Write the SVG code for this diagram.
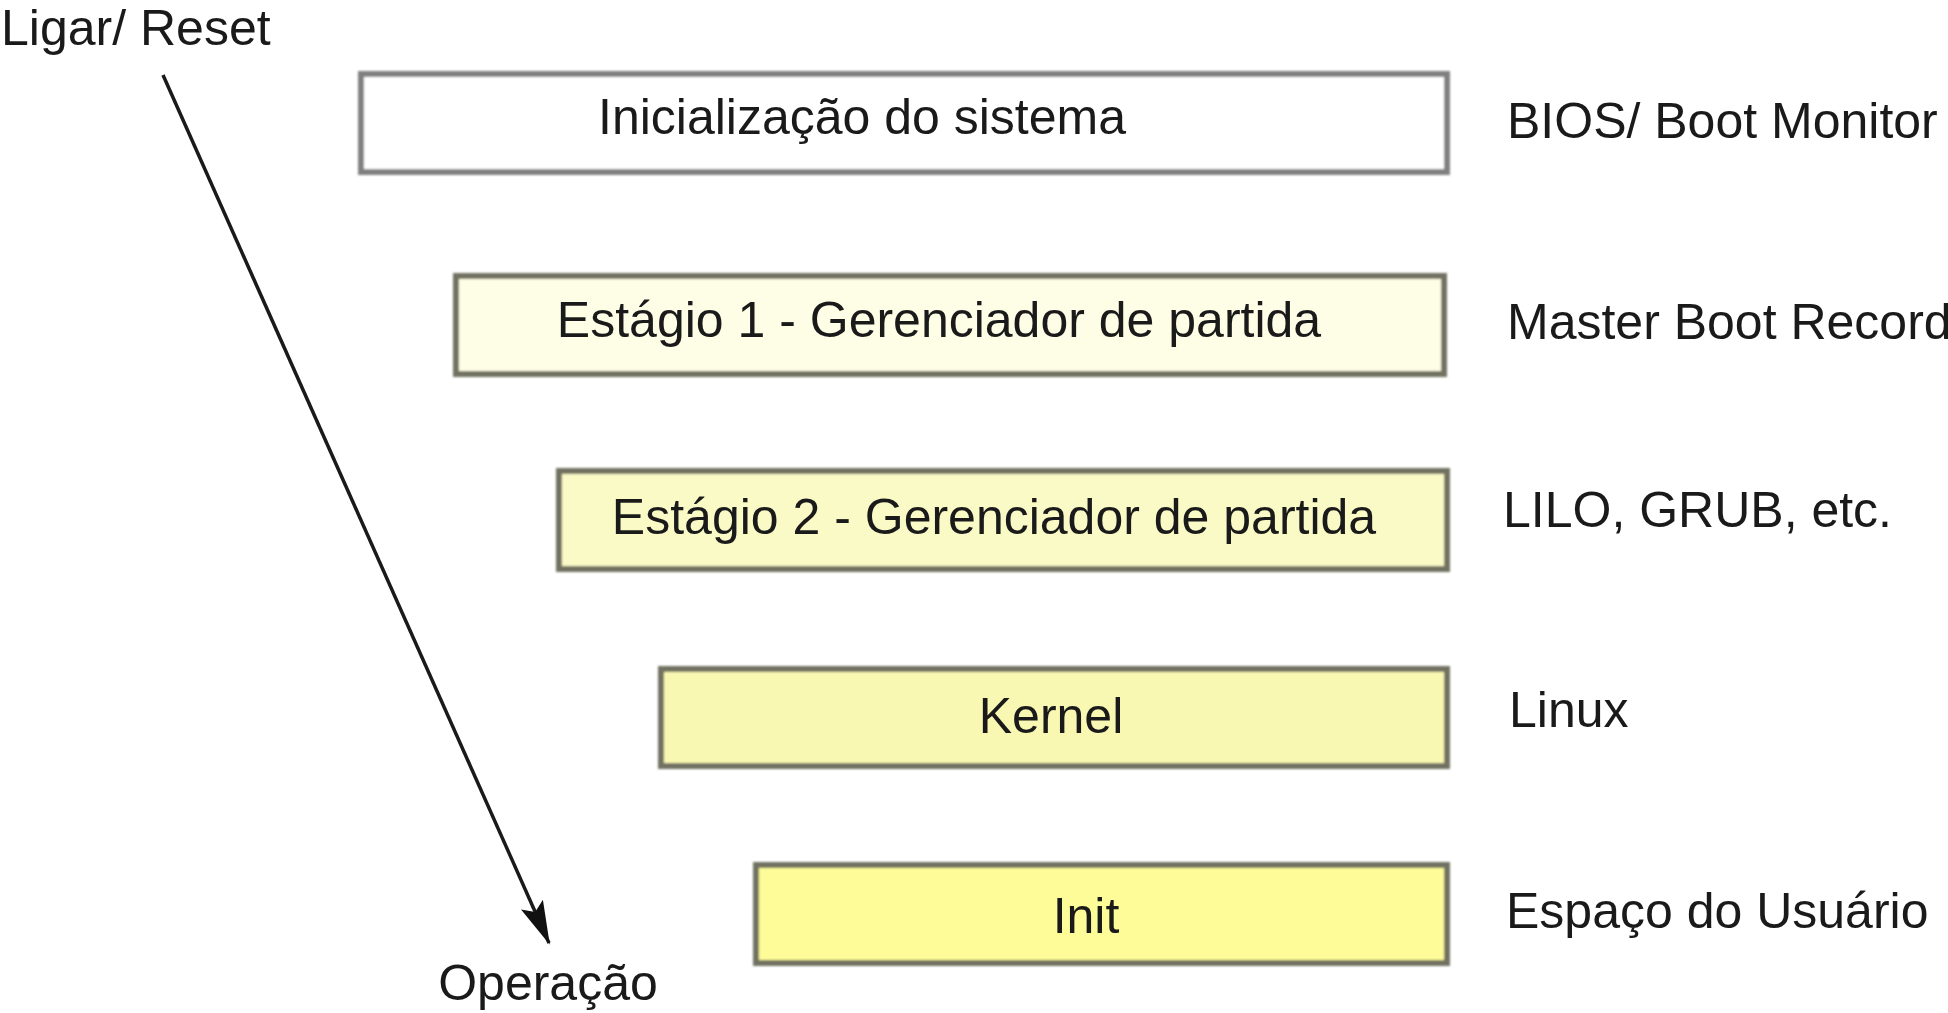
<svg xmlns="http://www.w3.org/2000/svg" width="1948" height="1013" viewBox="0 0 1948 1013">
<style>
text{font-family:"Liberation Sans",Arial,sans-serif;font-size:50px;fill:#1a1a1a}
.box{stroke:#727262;stroke-width:6}
.mid{text-anchor:middle}
</style>
<defs>
<filter id="soft" x="-5%" y="-20%" width="110%" height="140%"><feGaussianBlur stdDeviation="0.9"/></filter>
<marker id="ah" markerWidth="44" markerHeight="24" refX="42" refY="12" orient="auto" markerUnits="userSpaceOnUse"><path d="M0,0 L44,12 L0,24 L8,12 Z" fill="#111"/></marker>
</defs>
<rect width="1948" height="1013" fill="#fff"/>
<g id="connectors">
<line x1="163" y1="75" x2="549" y2="943" stroke="#1a1a1a" stroke-width="3.5" marker-end="url(#ah)"/>
</g>
<g id="n1"><rect class="box" x="361" y="74" width="1086" height="98" fill="#fff" style="stroke:#808080" filter="url(#soft)"/><text class="mid" x="862" y="134">Inicialização do sistema</text></g>
<g id="n2"><rect class="box" x="456" y="276" width="988" height="98" fill="#fefee6" filter="url(#soft)"/><text class="mid" x="939" y="337">Estágio 1 - Gerenciador de partida</text></g>
<g id="n3"><rect class="box" x="559" y="471" width="888" height="98" fill="#fafac6" filter="url(#soft)"/><text class="mid" x="994" y="534">Estágio 2 - Gerenciador de partida</text></g>
<g id="n4"><rect class="box" x="661" y="669" width="786" height="97" fill="#f9f8b2" filter="url(#soft)"/><text class="mid" x="1051" y="733">Kernel</text></g>
<g id="n5"><rect class="box" x="756" y="865" width="691" height="98" fill="#fdfc98" filter="url(#soft)"/><text class="mid" x="1086" y="933">Init</text></g>
<g id="labels">
<text x="1" y="45">Ligar/ Reset</text>
<text x="1507" y="138">BIOS/ Boot Monitor</text>
<text x="1507" y="339">Master Boot Record</text>
<text x="1503" y="527">LILO, GRUB, etc.</text>
<text x="1509" y="727">Linux</text>
<text x="1506" y="928">Espaço do Usuário</text>
<text class="mid" x="548" y="1000">Operação</text>
</g>
</svg>
